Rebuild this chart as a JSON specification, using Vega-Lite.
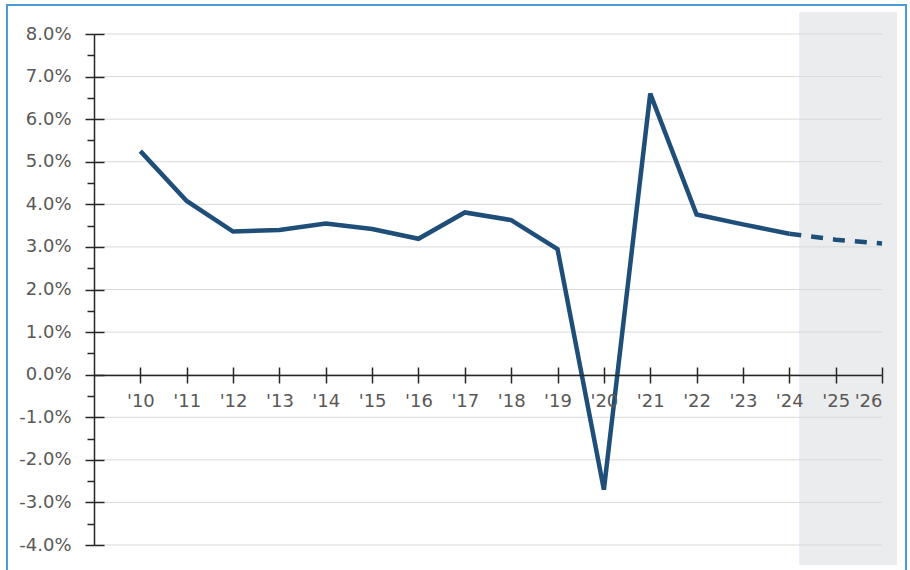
{
  "$schema": "https://vega.github.io/schema/vega-lite/v6.json",
  "width": 788,
  "height": 511,
  "autosize": {"type": "none"},
  "padding": {"left": 94, "top": 34, "right": 28, "bottom": 25},
  "background": "white",
  "config": {
    "view": {"stroke": null},
    "font": "DejaVu Sans",
    "axis": {"labelFont": "DejaVu Sans", "labelFontSize": 18, "labelColor": "#5a5856", "domainColor": "#262626", "tickColor": "#262626", "gridColor": "#d9d9d9", "title": null}
  },
  "datasets": {
    "growth": [
      {"year": 2010, "value": 5.25, "type": "actual"},
      {"year": 2011, "value": 4.08, "type": "actual"},
      {"year": 2012, "value": 3.36, "type": "actual"},
      {"year": 2013, "value": 3.4, "type": "actual"},
      {"year": 2014, "value": 3.55, "type": "actual"},
      {"year": 2015, "value": 3.42, "type": "actual"},
      {"year": 2016, "value": 3.19, "type": "actual"},
      {"year": 2017, "value": 3.81, "type": "actual"},
      {"year": 2018, "value": 3.63, "type": "actual"},
      {"year": 2019, "value": 2.95, "type": "actual"},
      {"year": 2020, "value": -2.7, "type": "actual"},
      {"year": 2021, "value": 6.6, "type": "actual"},
      {"year": 2022, "value": 3.76, "type": "actual"},
      {"year": 2023, "value": 3.53, "type": "actual"},
      {"year": 2024, "value": 3.31, "type": "actual"},
      {"year": 2024, "value": 3.31, "type": "forecast"},
      {"year": 2025, "value": 3.17, "type": "forecast"},
      {"year": 2026, "value": 3.08, "type": "forecast"}
    ],
    "gridlines": [
      {"level": -4}, {"level": -3}, {"level": -2}, {"level": -1}, {"level": 0}, {"level": 1}, {"level": 2},
      {"level": 3}, {"level": 4}, {"level": 5}, {"level": 6}, {"level": 7}, {"level": 8}
    ]
  },
  "data": {"name": "growth"},
  "resolve": {"axis": {"x": "independent", "y": "independent"}},
  "layer": [
    {
      "mark": {"type": "rect", "fill": null, "stroke": "#4a9bd6", "strokeWidth": 1.5, "clip": false},
      "encoding": {
        "x": {"datum": 2007.12, "type": "quantitative", "scale": {"domain": [2009, 2026], "nice": false, "zero": false}, "axis": null},
        "x2": {"datum": 2026.52},
        "y": {"datum": 8.68, "type": "quantitative", "scale": {"domain": [-4, 8], "nice": false, "zero": false}, "axis": null},
        "y2": {"datum": -4.75}
      }
    },
    {
      "mark": {"type": "rect", "clip": false, "fill": "#ebecee"},
      "encoding": {
        "x": {"datum": 2024.23, "type": "quantitative", "scale": {"domain": [2009, 2026], "nice": false, "zero": false},
          "axis": {"orient": "top", "offset": -341, "values": [2010,2011,2012,2013,2014,2015,2016,2017,2018,2019,2020,2021,2022,2023,2024,2025,2026], "tickSize": 8, "labels": false, "domain": false, "grid": false, "tickWidth": 1.5, "zindex": 1}},
        "x2": {"datum": 2026.31},
        "y": {"datum": 8.5, "type": "quantitative", "scale": {"domain": [-4, 8], "nice": false, "zero": false},
          "axis": {"orient": "right", "offset": -788, "values": [-4,-3,-2,-1,0,1,2,3,4,5,6,7,8], "tickSize": 10, "labels": false, "domain": false, "grid": false, "tickWidth": 1.5, "zindex": 1}},
        "y2": {"datum": -4.47}
      }
    },
    {
      "data": {"name": "gridlines"},
      "mark": {"type": "rule", "color": "#d9d9d9", "strokeWidth": 1},
      "encoding": {
        "y": {"field": "level", "type": "quantitative", "scale": {"domain": [-4, 8], "nice": false, "zero": false}, "axis": null}
      }
    },
    {
      "transform": [{"filter": "datum.type === 'actual'"}],
      "mark": {"type": "line", "color": "#1f4e79", "strokeWidth": 4.5, "strokeJoin": "miter", "strokeCap": "butt"},
      "encoding": {
        "x": {"field": "year", "type": "quantitative", "scale": {"domain": [2009, 2026], "nice": false, "zero": false},
          "axis": {"orient": "bottom", "offset": -170, "values": [2010,2011,2012,2013,2014,2015,2016,2017,2018,2019,2020,2021,2022,2023,2024,2025,2026], "tickSize": 8, "tickWidth": 1.5, "domainWidth": 1.5, "labelPadding": 9, "grid": false, "zindex": 1, "labelExpr": "\"'\" + slice(toString(datum.value), 2)"}},
        "y": {"field": "value", "type": "quantitative", "scale": {"domain": [-4, 8], "nice": false, "zero": false},
          "axis": {"orient": "left", "values": [-4,-3,-2,-1,0,1,2,3,4,5,6,7,8], "tickSize": 9, "tickWidth": 1.5, "domainWidth": 1.5, "labelPadding": 14, "grid": false, "zindex": 1, "labelExpr": "(datum.value < 0 ? '-' : '') + format(abs(datum.value), '.1f') + '%'"}}
      }
    },
    {
      "transform": [{"filter": "datum.type === 'forecast'"}],
      "mark": {"type": "line", "color": "#1f4e79", "strokeWidth": 4.5, "strokeDash": [12, 10], "strokeCap": "butt"},
      "encoding": {
        "x": {"field": "year", "type": "quantitative", "scale": {"domain": [2009, 2026], "nice": false, "zero": false}, "axis": null},
        "y": {"field": "value", "type": "quantitative", "scale": {"domain": [-4, 8], "nice": false, "zero": false},
          "axis": {"orient": "left", "values": [-3.5,-2.5,-1.5,-0.5,0.5,1.5,2.5,3.5,4.5,5.5,6.5,7.5], "tickSize": 7, "tickWidth": 1.5, "labels": false, "domain": false, "grid": false, "zindex": 1}}
      }
    }
  ]
}
